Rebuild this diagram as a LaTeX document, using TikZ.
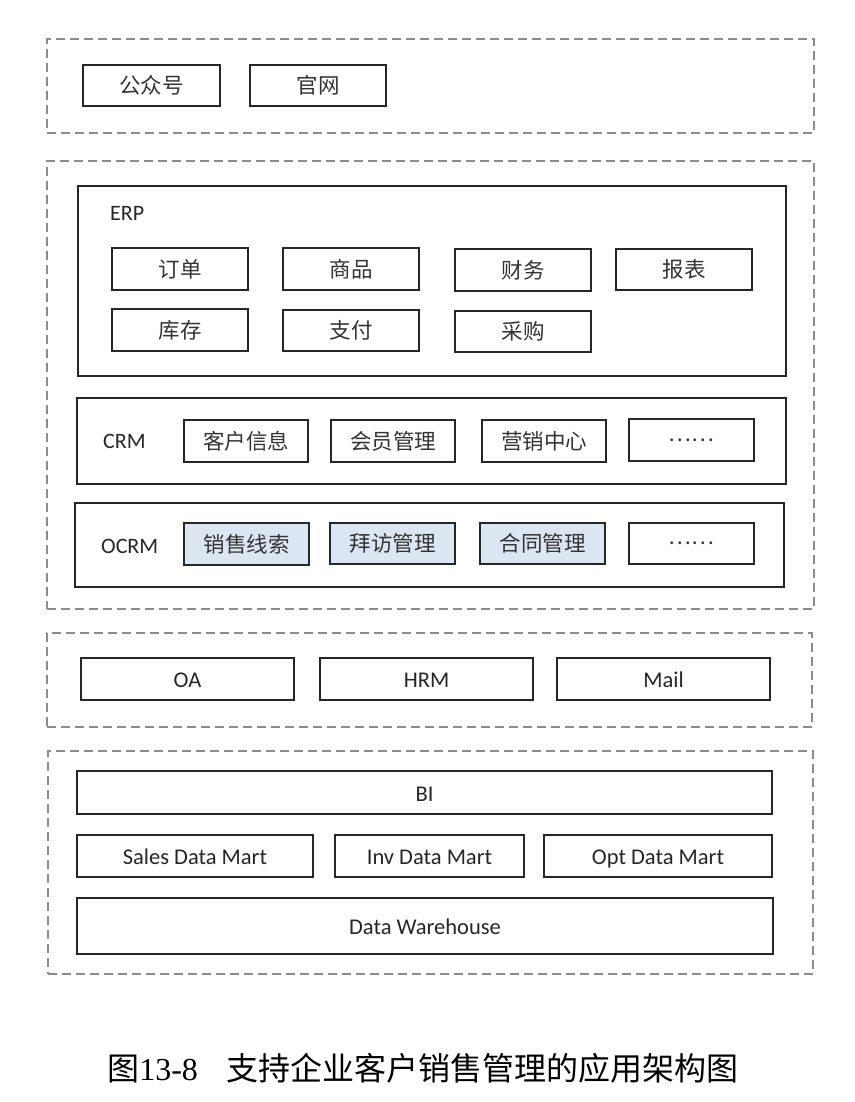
\documentclass[tikz,border=0pt]{standalone}
\usepackage{fontspec}
\setmainfont{Carlito}
\newfontfamily\cjk{Noto Sans CJK SC}
\newfontfamily\capserif{Liberation Serif}
\definecolor{dashgray}{HTML}{8C8C8C}
\definecolor{lightblue}{HTML}{DCE6F2}
\newcommand{\rbox}[7]{\node[#1, minimum width=#4pt-#3pt, minimum height=#6pt-#5pt] (#2) at ({(#3+#4)/2},{(#5+#6)/2}) {#7};}
\tikzset{
  grp/.style={draw=dashgray, line width=1.8pt, dash pattern=on 9pt off 5pt, inner sep=0pt, outer sep=0pt},
  frame/.style={draw=black!85, line width=1.8pt, inner sep=0pt, outer sep=0pt},
  cbox/.style={draw=black!85, line width=1.8pt, inner sep=0pt, outer sep=0pt, font=\cjk\fontsize{21.5pt}{24pt}\selectfont, text=black!80},
  lbox/.style={draw=black!85, line width=1.8pt, inner sep=0pt, outer sep=0pt, font=\fontsize{22.5pt}{25pt}\selectfont, text=black!85, text height=19pt, text depth=1.5pt},
  hbox/.style={cbox, fill=lightblue},
  lab/.style={anchor=west, inner sep=0pt, font=\fontsize{22pt}{25pt}\selectfont, text=black!85}
}
\begin{document}
\begin{tikzpicture}[x=1pt,y=-1pt]
\fill[white] (0,0) rectangle (854,1102);
\useasboundingbox (0,0) rectangle (854,1102);
% group 1
\rbox{grp}{g1}{47}{814}{39}{133}{}
\rbox{cbox}{gzh}{83}{220}{65}{106}{公众号}
\rbox{cbox}{gw}{250}{386}{65}{106}{官网}
% group 2
\rbox{grp}{g2}{47}{814}{161}{609}{}
\rbox{frame}{erp}{78}{786}{186}{376}{}
\node[lab] (erpl) at (110,213) {ERP};
\rbox{cbox}{dd}{112}{248}{248}{290}{订单}
\rbox{cbox}{sp}{283}{419}{248}{290}{商品}
\rbox{cbox}{cw}{455}{591}{249}{291}{财务}
\rbox{cbox}{bb}{616}{752}{249}{290}{报表}
\rbox{cbox}{kc}{112}{248}{309}{351}{库存}
\rbox{cbox}{zf}{283}{419}{310}{351}{支付}
\rbox{cbox}{cg}{455}{591}{311}{352}{采购}
\rbox{frame}{crm}{77}{786}{398}{484}{}
\node[lab] (crml) at (103,441) {CRM};
\rbox{cbox}{khxx}{184}{308}{420}{462}{客户信息}
\rbox{cbox}{hygl}{331}{455}{420}{462}{会员管理}
\rbox{cbox}{yxzx}{482}{606}{420}{462}{营销中心}
\rbox{cbox}{crmd}{629}{754}{419}{461}{\raisebox{-2pt}{……}}
\rbox{frame}{ocrm}{75}{784}{503}{587}{}
\node[lab] (ocrml) at (101,546) {OCRM};
\rbox{hbox}{xsxs}{184}{309}{523}{565}{销售线索}
\rbox{hbox}{bfgl}{330}{455}{523}{564}{拜访管理}
\rbox{hbox}{htgl}{480}{605}{523}{564}{合同管理}
\rbox{cbox}{ocrmd}{629}{754}{523}{564}{\raisebox{-2pt}{……}}
% group 3
\rbox{grp}{g3}{47}{812}{633}{727}{}
\rbox{lbox}{oa}{81}{294}{658}{700}{OA}
\rbox{lbox}{hrm}{320}{533}{658}{700}{HRM}
\rbox{lbox}{mail}{557}{770}{658}{700}{Mail}
% group 4
\rbox{grp}{g4}{48}{813}{751}{974}{}
\rbox{lbox}{bi}{77}{772}{771}{814}{BI}
\rbox{lbox}{sdm}{77}{313}{835}{877}{Sales Data Mart}
\rbox{lbox}{idm}{335}{524}{835}{877}{Inv Data Mart}
\rbox{lbox}{odm}{544}{772}{835}{877}{Opt Data Mart}
\rbox{lbox}{dw}{77}{773}{898}{954}{Data Warehouse}
% caption
\node[inner sep=0pt, font=\cjk\fontsize{32pt}{35pt}\selectfont] (cap) at (423,1068) {图{\capserif 13-8}\hspace{0.9em}支持企业客户销售管理的应用架构图};
\end{tikzpicture}
\end{document}
